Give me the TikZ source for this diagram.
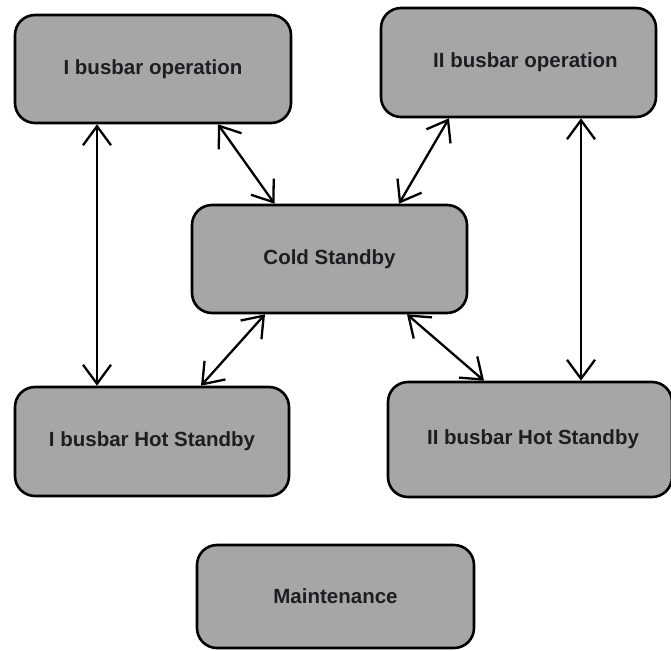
\documentclass[tikz,border=0pt]{standalone}
\usepackage{fontspec}
\setmainfont{Liberation Sans}
\usetikzlibrary{arrows.meta}
\definecolor{boxfill}{HTML}{A6A6A6}
\definecolor{txt}{HTML}{1E1E22}
\tikzset{
  state/.style={draw=black, line width=2.6pt, fill=boxfill, rounded corners=20pt,
    minimum width=#1, inner sep=0pt, text=txt,
    font=\fontsize{20.5}{24}\selectfont\bfseries},
  dbl/.style={line width=2.3pt, {Straight Barb[length=19pt,width=28pt,line width=2.3pt]}-{Straight Barb[length=19pt,width=28pt,line width=2.3pt]}}
}
\begin{document}
\begin{tikzpicture}[x=1pt,y=-1pt]
\useasboundingbox (0,0) rectangle (671,650);
\node[state=276pt, minimum height=108pt] (op1) at (153,69) {I busbar operation};
\node[state=275pt, minimum height=109pt] (op2) at (518.5,62.5) {\hspace{14pt}II busbar operation};
\node[state=275pt, minimum height=108pt] (cold) at (329.5,259) {Cold Standby};
\node[state=274pt, minimum height=109pt] (hot1) at (152,441.5) {I busbar Hot Standby};
\node[state=284pt, minimum height=115pt] (hot2) at (530,439.5) {\hspace{6pt}II busbar Hot Standby};
\node[state=277pt, minimum height=103pt] (maint) at (335.5,596.5) {Maintenance};

\draw[dbl] ([xshift=-56pt]op1.south) -- ([xshift=-56pt]op1.south |- hot1.north);
\draw[dbl] ([xshift=65pt]op1.south) -- ([xshift=-55pt]cold.north);
\draw[dbl] ([xshift=-69.5pt]op2.south) -- ([xshift=69.5pt]cold.north);
\draw[dbl] ([xshift=62.5pt]op2.south) -- ([xshift=62.5pt]op2.south |- hot2.north);
\draw[dbl] ([xshift=-64.5pt]cold.south) -- ([xshift=49pt]hot1.north);
\draw[dbl] ([xshift=77.5pt]cold.south) -- ([xshift=-46pt]hot2.north);
\end{tikzpicture}
\end{document}
